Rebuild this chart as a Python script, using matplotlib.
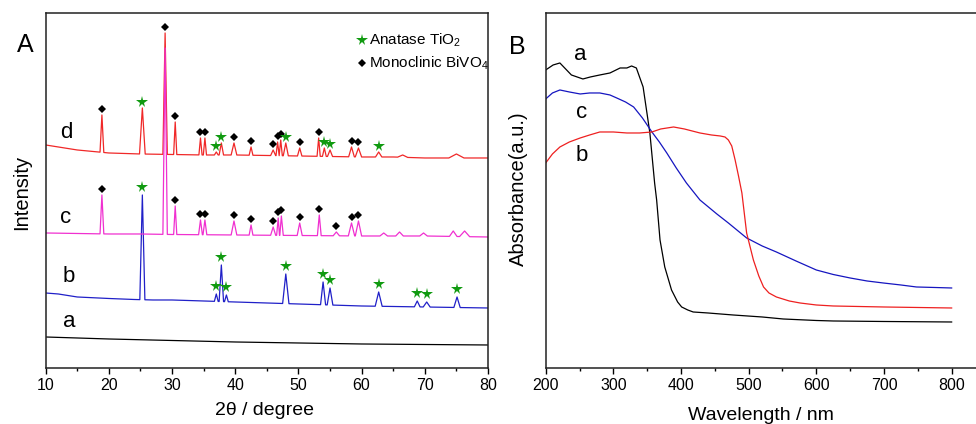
import numpy as np
import matplotlib
matplotlib.use("Agg")
import matplotlib.pyplot as plt
from matplotlib.ticker import MultipleLocator

plt.rcParams['font.family'] = ['Liberation Sans', 'DejaVu Sans']
plt.rcParams['mathtext.default'] = 'regular'

# ---------------- panel A: XRD (2theta in degree, intensity in a.u.) ----------------
# baselines
a_base_x = [10, 20, 30, 40, 50, 60, 70, 80]
a_base_y = [31, 29, 27.5, 26, 25, 24, 23.5, 23]

b_base_x = [10, 12, 15, 20, 24, 27, 30, 35, 40, 45, 50, 60, 70, 80]
b_base_y = [75, 74, 71, 69.5, 68.5, 68, 68, 67, 66, 65, 64, 62, 61, 60]
b_peak_x = [25.3, 37.0, 37.8, 38.6, 48.0, 53.9, 55.0, 62.7, 68.8, 70.3, 75.1]
b_peak_y = [173, 74, 103, 73, 94, 86, 80, 76, 67, 66, 71]
b_peak_w = [0.4, 0.3, 0.35, 0.3, 0.5, 0.4, 0.45, 0.55, 0.45, 0.55, 0.5]
b_phase = ['A', 'A', 'A', 'A', 'A', 'A', 'A', 'A', 'A', 'A', 'A']

c_base_x = [10, 15, 20, 25, 30, 40, 50, 60, 70, 80]
c_base_y = [135, 134.5, 134, 134, 133.5, 133, 132.5, 132, 132, 131]
c_peak_x = [18.9, 28.9, 30.5, 34.5, 35.2, 39.8, 42.5, 46.0, 46.8, 47.3, 50.2,
            53.3, 56.0, 58.4, 59.5, 63.5, 66.0, 69.8, 74.5, 76.3]
c_peak_y = [173, 320, 162, 148, 148, 147, 143, 141, 150, 152, 145,
            153, 136, 145, 147, 135, 136, 135, 137, 137]
c_peak_w = [0.3, 0.35, 0.25, 0.3, 0.3, 0.45, 0.3, 0.4, 0.25, 0.3, 0.4,
            0.3, 0.5, 0.5, 0.5, 0.6, 0.6, 0.6, 0.6, 0.8]
c_phase = ['M', None, 'M', 'M', 'M', 'M', 'M', 'M', 'M', 'M', 'M',
           'M', 'M', 'M', 'M', None, None, None, None, None]

d_base_x = [10, 12, 15, 20, 25, 30, 35, 40, 45, 50, 55, 60, 65, 70, 75, 80]
d_base_y = [223, 221, 218, 215, 214, 213.5, 213, 213, 212.5, 212, 211.5, 211, 211, 210, 210, 210]
d_peak_x = [18.9, 25.3, 28.9, 30.5, 34.5, 35.2, 37.0, 37.8, 39.8, 42.5, 46.0,
            46.7, 47.2, 48.0, 50.2, 53.2, 54.1, 55.0, 58.4, 59.5, 62.7, 66.5, 75.0]
d_peak_y = [253, 260, 335, 246, 230, 230, 216, 225, 225, 221, 218,
            226, 228, 225, 220, 230, 220, 218, 221, 220, 216, 213, 214]
d_peak_w = [0.3, 0.45, 0.35, 0.25, 0.25, 0.25, 0.3, 0.35, 0.45, 0.3, 0.4,
            0.25, 0.25, 0.4, 0.35, 0.25, 0.3, 0.4, 0.45, 0.5, 0.5, 0.8, 1.2]
d_phase = ['M', 'A', 'M', 'M', 'M', 'M', 'A', 'A', 'M', 'M', 'M',
           'M', 'M', 'A', 'M', 'M', 'A', 'A', 'M', 'M', 'A', None, None]

# ---------------- panel B: UV-vis absorbance ----------------
uv_a_x = [200, 211, 221, 238, 255, 266, 280, 295, 310, 320, 327, 334, 344, 354, 361,
          364, 369, 376, 386, 395, 401, 410, 418, 440, 477, 520, 551, 600, 625, 700, 800]
uv_a_y = [298, 303, 305, 293, 289, 291, 293, 295, 300, 300, 302, 300, 281, 235, 185,
          168, 128, 101, 78, 66, 61, 58, 56, 55, 53, 51, 49, 47.5, 47, 46.5, 46]

uv_c_x = [200, 210, 221, 235, 251, 265, 280, 295, 305, 318, 330, 343, 357, 368, 379,
          393, 408, 428, 453, 470, 497, 520, 541, 570, 600, 625, 650, 675, 699, 725,
          748, 775, 800]
uv_c_y = [269, 275, 278, 276, 274, 275, 275, 273, 270, 266, 261, 250, 236, 226, 215,
          200, 185, 168, 154, 145, 130, 122, 116, 107, 98, 93.5, 90, 87, 85, 83,
          81, 80.5, 80]

uv_b_x = [200, 210, 221, 235, 251, 265, 280, 300, 320, 339, 357, 370, 389, 405, 428,
          445, 458, 465, 470, 475, 480, 485, 490, 497, 507, 515, 522, 530, 541, 560,
          576, 600, 625, 700, 800]
uv_b_y = [205, 214, 221, 226, 230, 233, 236, 236, 235, 235, 236, 239, 241, 239, 235,
          233, 232, 231, 228, 222, 208, 192, 175, 135, 108, 92, 81, 75, 71, 67,
          65, 63, 62, 61, 60]


def xrd_curve(base_x, base_y, peak_x=(), peak_y=(), peak_w=()):
    # baseline plus sharp reflections
    pts = []
    for x, y in zip(base_x, base_y):
        if all(abs(x - p) > w for p, w in zip(peak_x, peak_w)):
            pts.append((x, y))
    for p, h, w in zip(peak_x, peak_y, peak_w):
        pts.append((p - w, np.interp(p - w, base_x, base_y)))
        pts.append((p, h))
        pts.append((p + w, np.interp(p + w, base_x, base_y)))
    pts.sort()
    return [q[0] for q in pts], [q[1] for q in pts]


def mark_peaks(ax, peak_x, peak_y, phase, off=8):
    for p, h, ph in zip(peak_x, peak_y, phase):
        if ph == 'A':
            ax.plot(p, h + off, marker='*', color='#109a10', ms=8.5, mew=0, zorder=6)
        elif ph == 'M':
            ax.plot(p, h + off, marker='D', color='black', ms=3.8, mew=0, zorder=6)


fig = plt.figure(figsize=(9.76, 4.24), dpi=100)
axA = fig.add_axes([0.0468, 0.1321, 0.4532, 0.8373])
axB = fig.add_axes([0.5591, 0.1321, 0.4506, 0.8373])

lw = 0.9
x, y = xrd_curve(a_base_x, a_base_y)
axA.plot(x, y, color='black', lw=lw)
x, y = xrd_curve(b_base_x, b_base_y, b_peak_x, b_peak_y, b_peak_w)
axA.plot(x, y, color='#2020c8', lw=lw)
x, y = xrd_curve(d_base_x, d_base_y, d_peak_x, d_peak_y, d_peak_w)
axA.plot(x, y, color='#f02828', lw=lw)
x, y = xrd_curve(c_base_x, c_base_y, c_peak_x, c_peak_y, c_peak_w)
axA.plot(x, y, color='#f030d0', lw=lw)

mark_peaks(axA, b_peak_x, b_peak_y, b_phase)
mark_peaks(axA, c_peak_x, c_peak_y, c_phase, off=6)
mark_peaks(axA, d_peak_x, d_peak_y, d_phase, off=6)

for lab, lx, ly in [('d', 13.3, 235), ('c', 13.2, 150), ('b', 13.7, 91), ('a', 13.7, 46)]:
    axA.text(lx, ly, lab, fontsize=16, ha='center', va='center')

# legend drawn by hand like the original
axA.plot(60.1, 328, marker='*', color='#109a10', ms=8.5, mew=0)
axA.text(61.2, 328, r'Anatase TiO$_2$', fontsize=11, va='center')
axA.plot(60.1, 305, marker='D', color='black', ms=3.8, mew=0)
axA.text(61.2, 305, r'Monoclinic BiVO$_4$', fontsize=11, va='center')

axA.set_xlim(10, 80)
axA.set_ylim(0, 355)
axA.xaxis.set_major_locator(MultipleLocator(10))
axA.xaxis.set_minor_locator(MultipleLocator(5))
axA.set_yticks([])
axA.set_xlabel('2θ / degree', fontsize=14)
axA.xaxis.set_label_coords(0.4936, -0.095)

axB.plot(uv_a_x, uv_a_y, color='black', lw=lw)
axB.plot(uv_c_x, uv_c_y, color='#1515c0', lw=lw)
axB.plot(uv_b_x, uv_b_y, color='#ee2020', lw=lw)
for lab, lx, ly in [('a', 250.7, 313), ('c', 253, 255), ('b', 253, 212)]:
    axB.text(lx, ly, lab, fontsize=16, ha='center', va='center')

axB.set_xlim(200, 850)
axB.set_ylim(0, 355)
axB.set_xticks(np.arange(200, 801, 100))
axB.set_xticks(np.arange(250, 800, 100), minor=True)
axB.set_yticks([])
axB.set_xlabel('Wavelength / nm', fontsize=14)
axB.xaxis.set_label_coords(0.4895, -0.109)

for ax in (axA, axB):
    for s in ax.spines.values():
        s.set_linewidth(1.1)
        s.set_color('#222222')
    ax.tick_params(axis='x', which='major', direction='out', length=4, width=1,
                   labelsize=11.5, pad=3)
    ax.tick_params(axis='x', which='minor', direction='out', length=2.5, width=1)

fig.text(0.0256, 0.894, 'A', fontsize=18, ha='center', va='center')
fig.text(0.5297, 0.889, 'B', fontsize=18, ha='center', va='center')
fig.text(0.0225, 0.545, 'Intensity', fontsize=14.5, rotation=90, ha='center', va='center')
fig.text(0.531, 0.554, 'Absorbance(a.u.)', fontsize=14.5, rotation=90, ha='center', va='center')

fig.savefig('out.png', dpi=100)
